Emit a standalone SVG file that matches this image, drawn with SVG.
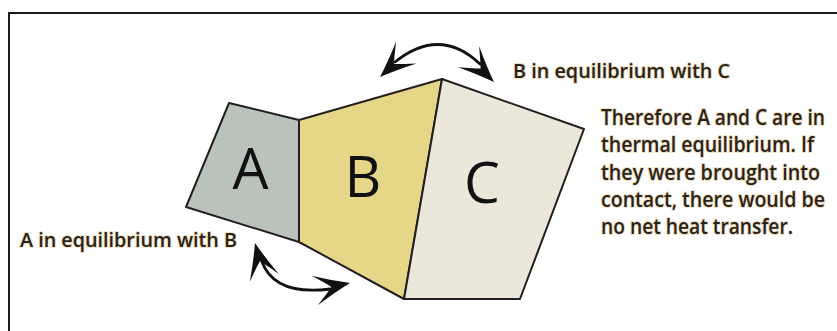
<svg xmlns="http://www.w3.org/2000/svg" width="837" height="331" viewBox="0 0 837 331">
<style>
.frame{fill:none;stroke:#1a1a1a;stroke-width:2}
.poly{stroke:#231f20;stroke-width:2;stroke-linejoin:round}
.big{font-family:"Open Sans","Liberation Sans",sans-serif;font-size:57px;fill:#111;text-anchor:middle}
.lbl{font-family:"Open Sans","Liberation Sans",sans-serif;font-weight:600;font-size:20px;fill:#2b2218;stroke:#efe1c4;stroke-width:2;paint-order:stroke;stroke-linejoin:round}
.par{font-size:21px}
.arc{fill:none;stroke:#111;stroke-width:2.8;stroke-linecap:round}
.head{fill:#111}
</style>
<defs>
<path id="ah" d="M0,0 Q-17,-6 -36,-15 Q-23,-4 -19,0 Q-23,4 -36,15 Q-17,6 0,0 Z"/>
</defs>
<path class="frame" d="M9,331 V13 H837"/>
<g id="nodeA">
<polygon class="poly" fill="#b9c3bc" points="229,103 299,120 299,242 186,207"/>
<text class="big" x="250.5" y="189">A</text>
</g>
<g id="nodeB">
<polygon class="poly" fill="#e6d688" points="299,120 442,79 404,299 299,242"/>
<text class="big" x="363" y="197">B</text>
</g>
<g id="nodeC">
<polygon class="poly" fill="#ebe7da" points="442,79 584,129 520,299 404,299"/>
<text class="big" x="482" y="203">C</text>
</g>
<g id="connectors">
<path class="arc" d="M395,62 Q440,26 480,64"/>
<use href="#ah" class="head" transform="translate(380,77) rotate(137)"/>
<use href="#ah" class="head" transform="translate(494,82) rotate(45)"/>
<path class="arc" d="M262,262 Q275,296 330,289"/>
<use href="#ah" class="head" transform="translate(255,243) rotate(-105)"/>
<use href="#ah" class="head" transform="translate(350,283) rotate(-12)"/>
</g>
<g id="labels">
<text class="lbl" x="20" y="247" textLength="217" lengthAdjust="spacingAndGlyphs">A in equilibrium with B</text>
<text class="lbl" x="513" y="77.5" textLength="217" lengthAdjust="spacingAndGlyphs">B in equilibrium with C</text>
<text class="lbl par" x="601" y="125" textLength="224" lengthAdjust="spacingAndGlyphs">Therefore A and C are in</text>
<text class="lbl par" x="601" y="152" textLength="213" lengthAdjust="spacingAndGlyphs">thermal equilibrium. If</text>
<text class="lbl par" x="601" y="180" textLength="219" lengthAdjust="spacingAndGlyphs">they were brought into</text>
<text class="lbl par" x="601" y="207" textLength="224" lengthAdjust="spacingAndGlyphs">contact, there would be</text>
<text class="lbl par" x="601" y="234" textLength="192" lengthAdjust="spacingAndGlyphs">no net heat transfer.</text>
</g>
</svg>
